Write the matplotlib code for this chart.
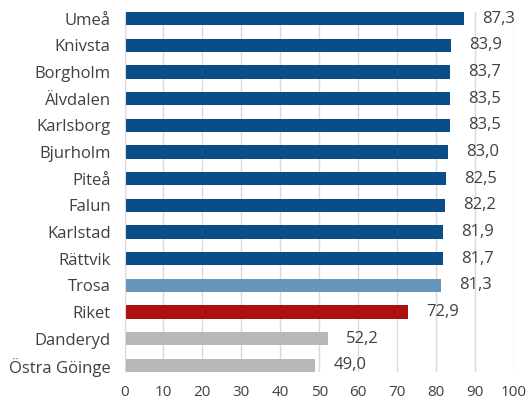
import matplotlib
matplotlib.use("Agg")
import matplotlib.pyplot as plt

# Data
kommuner = ["Umeå", "Knivsta", "Borgholm", "Älvdalen", "Karlsborg", "Bjurholm", "Piteå",
            "Falun", "Karlstad", "Rättvik", "Trosa", "Riket", "Danderyd", "Östra Göinge"]
varden = [87.3, 83.9, 83.7, 83.5, 83.5, 83.0, 82.5, 82.2, 81.9, 81.7, 81.3, 72.9, 52.2, 49.0]
etiketter = ["87,3", "83,9", "83,7", "83,5", "83,5", "83,0", "82,5",
             "82,2", "81,9", "81,7", "81,3", "72,9", "52,2", "49,0"]
farger = ["#0a4d88"] * 10 + ["#6896bb", "#ad1010", "#b6b9bc", "#b6b9bc"]
xticks = list(range(0, 101, 10))

plt.rcParams["font.family"] = ["Open Sans", "DejaVu Sans"]
textfarg = "#404040"

fig = plt.figure(figsize=(5.26, 4.0), dpi=100)
ax = fig.add_axes([0.2367, 0.07, 0.977 - 0.2367, 0.90])

pos = list(range(len(kommuner)))
ax.barh(pos, varden, height=0.5, color=farger, zorder=2)

for y, v, t in zip(pos, varden, etiketter):
    ax.annotate(t, xy=(v, y), xytext=(13, 0), textcoords="offset points",
                va="center", ha="left", fontsize=12, color=textfarg)

ax.set_xlim(0, 100)
ax.set_ylim(len(kommuner) - 0.75, -0.25)
ax.set_xticks(xticks)
ax.set_yticks(pos)
ax.set_yticklabels(kommuner)
ax.tick_params(axis="both", length=0, labelcolor=textfarg)
ax.tick_params(axis="y", pad=10, labelsize=12)
ax.tick_params(axis="x", pad=9, labelsize=11)
ax.grid(axis="x", color="#d9d9d9", linewidth=1, zorder=0)
for s in ["top", "right", "bottom"]:
    ax.spines[s].set_visible(False)
ax.spines["left"].set_color("#d9d9d9")

fig.savefig("out.png", dpi=100)
